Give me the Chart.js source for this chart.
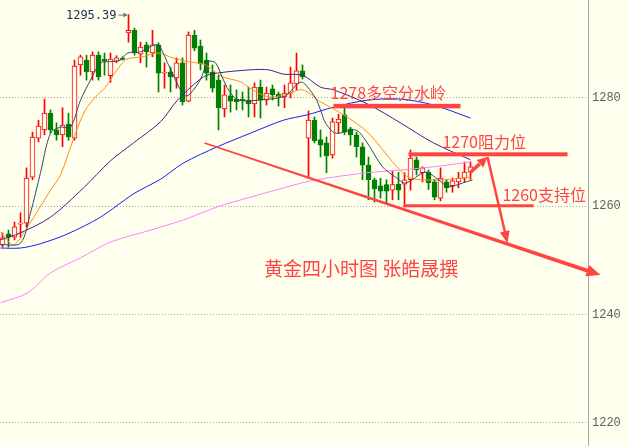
<!DOCTYPE html>
<html>
<head>
<meta charset="utf-8">
<script src="https://cdn.jsdelivr.net/npm/chart.js@4"></script>
<style>
html,body{margin:0;padding:0;background:#ffffee;}
#wrap{width:628px;height:446px;position:relative;}
</style>
</head>
<body>
<div id="wrap"><canvas id="myChart"></canvas></div>
<script>
// 黄金 4小时 K线 (index 0 = first candle)
var opens  = [1252.9,1254.9,1254.3,1256.7,1256.9,1265.4,1272.6,1274.1,1277.2,1274.1,
              1273.2,1275.2,1272.6,1286.1,1287.0,1284.8,1287.9,1287.2,1284.1,1286.8,
              1287.3,1292.0,1292.5,1288.1,1289.8,1288.3,1289.8,1284.6,1284.8,1283.7,
              1286.5,1279.4,1291.6,1289.6,1287.0,1284.8,1283.3,1278.0,1280.4,1279.8,
              1279.8,1279.6,1278.9,1282.0,1279.6,1281.7,1280.7,1280.2,1280.9,1282.6,
              1285.0,1272.6,1275.9,1272.3,1271.7,1269.5,1275.4,1276.9,1274.3,1273.2,
              1271.0,1267.6,1264.9,1263.8,1264.0,1263.0,1264.1,1264.1,1264.9,1268.6,
              1266.2,1266.3,1264.5,1261.5,1264.5,1263.8,1264.5,1265.2,1266.3];
var highs  = [1255.1,1255.6,1257.1,1258.8,1267.1,1273.7,1275.9,1279.8,1277.8,1275.4,
              1278.2,1277.2,1287.0,1287.9,1287.9,1288.5,1288.5,1288.3,1288.3,1287.8,
              1287.6,1295.39,1292.9,1290.3,1290.3,1292.5,1290.2,1286.5,1285.7,1287.4,
              1287.4,1292.2,1292.5,1290.7,1288.3,1286.1,1284.2,1282.4,1282.4,1281.5,
              1281.1,1282.0,1282.8,1283.3,1282.0,1282.4,1281.1,1282.4,1285.7,1288.3,
              1286.1,1277.6,1276.5,1274.1,1272.8,1276.3,1277.0,1278.2,1274.6,1273.7,
              1271.7,1269.1,1265.2,1265.2,1264.9,1266.5,1266.3,1266.2,1270.4,1269.1,
              1267.3,1266.7,1265.0,1267.1,1265.0,1265.2,1266.3,1268.2,1268.2];
var lows   = [1252.5,1252.5,1253.8,1254.3,1256.2,1264.9,1271.9,1273.2,1273.5,1272.2,
              1271.0,1272.2,1272.2,1284.2,1283.3,1283.3,1283.3,1284.2,1282.9,1286.5,
              1287.0,1290.3,1287.9,1286.5,1285.7,1287.6,1281.1,1281.8,1281.1,1281.8,
              1278.7,1279.3,1288.7,1285.2,1283.3,1281.1,1274.1,1276.5,1277.4,1277.8,
              1277.8,1276.5,1276.5,1276.3,1278.7,1279.6,1278.5,1278.2,1280.0,1281.5,
              1283.5,1265.2,1271.7,1269.1,1266.2,1268.9,1273.5,1273.2,1271.3,1269.1,
              1264.9,1261.2,1260.8,1261.5,1260.6,1261.2,1261.2,1259.9,1263.0,1265.8,
              1264.5,1263.1,1261.2,1261.0,1262.6,1262.6,1263.4,1264.5,1265.0];
var closes = [1254.2,1254.3,1256.2,1256.9,1265.2,1272.8,1274.8,1277.2,1274.1,1273.2,
              1275.0,1272.8,1285.9,1287.6,1284.8,1287.9,1283.9,1286.8,1287.2,1287.4,
              1287.1,1292.5,1288.3,1289.4,1288.5,1289.8,1284.6,1284.8,1283.9,1286.5,
              1279.3,1291.6,1289.2,1286.3,1284.6,1281.8,1278.2,1280.6,1279.4,1279.3,
              1279.5,1278.9,1282.0,1279.6,1280.9,1280.6,1280.2,1280.9,1282.8,1285.0,
              1283.9,1275.9,1272.1,1271.3,1269.3,1275.6,1276.1,1273.7,1273.2,1271.0,
              1267.6,1264.9,1263.2,1262.8,1262.8,1264.0,1263.0,1264.9,1268.9,1266.7,
              1267.1,1264.3,1261.7,1265.2,1263.4,1264.7,1265.2,1266.3,1267.3];

// moving average curves, [candle index, price]
var maSlate = [[-0.33,1252.9],[3,1253.2],[4.67,1258.8],[6.33,1266.2],[8,1273.5],[9.67,1274.6],
  [11.33,1274.6],[13,1279.6],[14.67,1283.3],[16.33,1286.5],[18,1286.7],[19.67,1287.0],[20.83,1288.3],
  [23,1288.5],[25.83,1289.8],[27.67,1286.1],[30.5,1280.4],[32.67,1282.8],[34.33,1286.7],[35.5,1286.5],
  [36.67,1283.7],[37.67,1281.5],[39.33,1279.6],[44.33,1279.8],[47.17,1280.4],[49.33,1282.8],
  [50.17,1282.8],[52.17,1280.0],[53,1277.8],[53.83,1275.4],[55.5,1273.5],[58.83,1274.1],[60.5,1272.2],
  [63.33,1267.3],[65.5,1265.4],[67.17,1264.3],[70.5,1266.3],[72.67,1264.9],[74.33,1263.6],
  [76.67,1264.3],[78.33,1264.9]];
var maOrange = [[-0.33,1255.3],[1.83,1252.9],[4.17,1256.2],[8,1263.0],[9.67,1265.8],[12.17,1273.5],
  [13.83,1277.8],[15.5,1280.2],[17.17,1282.0],[18.83,1284.8],[20.5,1287.0],[21.67,1287.4],
  [23.33,1287.6],[26,1288.3],[28.33,1287.4],[31,1286.7],[33.83,1286.1],[36.67,1283.9],[39.67,1283.0],
  [41.67,1281.5],[44.33,1280.2],[47.17,1280.6],[50,1281.5],[53,1279.3],[56.83,1276.9],[60.83,1273.7],
  [65.5,1267.6],[68,1265.2],[73.33,1264.9],[78,1265.4]];
var maPurple = [[-0.33,1253.8],[3,1255.1],[8,1258.0],[13.5,1263.4],[18,1268.4],[21.83,1271.7],
  [26.33,1275.6],[29.17,1279.6],[33.5,1283.9],[35.83,1284.6],[41.33,1285.2],[44.33,1285.2],
  [46.83,1284.4],[50,1284.2],[53,1282.0],[55.17,1281.5],[60.83,1278.9],[66.33,1275.4],
  [71.83,1271.7],[78,1268.6]];
var maBlue = [[-0.33,1252.3],[3,1252.3],[6.33,1253.1],[10.83,1254.9],[16.33,1258.0],[21.83,1262.3],
  [26.33,1265.0],[30.17,1268.0],[35.83,1271.0],[41.33,1273.5],[46.83,1275.9],[50.83,1276.9],
  [55.17,1278.3],[60.83,1279.6],[66.33,1279.8],[71.83,1278.7],[78,1276.3]];
var maPink = [[-0.33,1242.2],[4.17,1244.0],[8,1247.7],[13,1250.5],[18,1253.4],[24.67,1255.6],
  [30.17,1257.5],[35.83,1259.9],[41.33,1261.7],[46.83,1263.4],[51.33,1264.7],[55.17,1265.4],
  [60.83,1266.2],[66.33,1266.7],[71.83,1267.3],[78,1268.2]];

var yTicks = [1220, 1240, 1260, 1280];
var levelPrices = [1278.5, 1269.6, 1260.1];

var bg = '#ffffee';
var upColor = '#ff0000';
var downColor = '#008000';
var annoRed = '#ff4444';

var bodies = [], wicks = [], candleColors = [], bodyFill = [];
for (var i = 0; i < opens.length; i++) {
  var up = closes[i] >= opens[i];
  bodies.push({x: i, y: [opens[i], closes[i]]});
  wicks.push({x: i, y: [lows[i], highs[i]]});
  candleColors.push(up ? upColor : downColor);
  bodyFill.push(up ? bg : downColor);
}
function pts(arr) { return arr.map(function (p) { return {x: p[0], y: p[1]}; }); }
function maLine(arr, color, order) {
  return {type: 'line', data: pts(arr), borderColor: color, borderWidth: 1, pointRadius: 0,
          tension: 0.3, fill: false, order: order};
}

// drawing helpers for the hand annotations
function arrowHead(ctx, x1, y1, x2, y2, len, wid) {
  var a = Math.atan2(y2 - y1, x2 - x1);
  ctx.beginPath();
  ctx.moveTo(x2, y2);
  ctx.lineTo(x2 - len * Math.cos(a) + wid * Math.sin(a), y2 - len * Math.sin(a) - wid * Math.cos(a));
  ctx.lineTo(x2 - len * Math.cos(a) - wid * Math.sin(a), y2 - len * Math.sin(a) + wid * Math.cos(a));
  ctx.closePath();
  ctx.fill();
}

var notes = {
  levels: [
    {price: levelPrices[0], from: 55.17, to: 76.33, w: 4.5, text: '1278多空分水岭', tx: 54.67, ty: 1280.9},
    {price: levelPrices[1], from: 67.67, to: 94.17, w: 4, text: '1270阻力位', tx: 73.33, ty: 1271.9},
    {price: levelPrices[2], from: 66.83, to: 88.5, w: 3, text: '1260支持位', tx: 83.33, ty: 1262.1}
  ],
  trend: {a: [33.67, 1271.7], b: [99.67, 1247.3]},
  upArrow: {a: [78, 1266.3], b: [80.83, 1269.1]},
  downArrow: {a: [80.83, 1269.1], b: [84.17, 1253.2]},
  title: {text: '黄金四小时图 张皓晟撰', x: 43.6, y: 1248.4}
};

var annotate = {
  id: 'annotate',
  afterDraw: function (chart) {
    var ctx = chart.ctx, xs = chart.scales.x, ys = chart.scales.y;
    function P(i, p) { return [xs.getPixelForValue(i), ys.getPixelForValue(p)]; }
    ctx.save();

    // high label
    var hiIdx = highs.indexOf(Math.max.apply(null, highs));
    var hp = P(hiIdx, highs[hiIdx]);
    ctx.font = '12px "DejaVu Sans Mono"';
    ctx.fillStyle = '#1c2a50';
    ctx.textAlign = 'right';
    ctx.textBaseline = 'middle';
    ctx.fillText(highs[hiIdx].toFixed(2), hp[0] - 12, hp[1] + 1);
    ctx.strokeStyle = '#707070';
    ctx.fillStyle = '#707070';
    ctx.lineWidth = 1;
    ctx.beginPath();
    ctx.moveTo(hp[0] - 10, hp[1] + 0.5);
    ctx.lineTo(hp[0] - 2, hp[1] + 0.5);
    ctx.stroke();
    arrowHead(ctx, hp[0] - 10, hp[1] + 0.5, hp[0] - 1, hp[1] + 0.5, 4, 2.5);

    // level lines
    ctx.fillStyle = annoRed;
    notes.levels.forEach(function (l) {
      var a = P(l.from, l.price), b = P(l.to, l.price);
      ctx.fillRect(a[0], a[1] - l.w / 2, b[0] - a[0], l.w);
    });

    // trend line, tapered
    var t1 = P(notes.trend.a[0], notes.trend.a[1]), t2 = P(notes.trend.b[0], notes.trend.b[1]);
    var ang = Math.atan2(t2[1] - t1[1], t2[0] - t1[0]);
    var nx = -Math.sin(ang), ny = Math.cos(ang);
    var endX = t2[0] - 10 * Math.cos(ang), endY = t2[1] - 10 * Math.sin(ang);
    ctx.beginPath();
    ctx.moveTo(t1[0] + nx * 0.8, t1[1] + ny * 0.8);
    ctx.lineTo(endX + nx * 2, endY + ny * 2);
    ctx.lineTo(endX - nx * 2, endY - ny * 2);
    ctx.lineTo(t1[0] - nx * 0.8, t1[1] - ny * 0.8);
    ctx.closePath();
    ctx.fill();
    arrowHead(ctx, t1[0], t1[1], t2[0], t2[1], 14, 6);

    // small arrows
    ctx.strokeStyle = annoRed;
    var u1 = P(notes.upArrow.a[0], notes.upArrow.a[1]), u2 = P(notes.upArrow.b[0], notes.upArrow.b[1]);
    ctx.lineWidth = 3.5;
    ctx.beginPath();
    ctx.moveTo(u1[0], u1[1]);
    ctx.lineTo(u1[0] + (u2[0] - u1[0]) * 0.55, u1[1] + (u2[1] - u1[1]) * 0.55);
    ctx.stroke();
    arrowHead(ctx, u1[0], u1[1], u2[0], u2[1], 10, 5);

    var d1 = P(notes.downArrow.a[0], notes.downArrow.a[1]), d2 = P(notes.downArrow.b[0], notes.downArrow.b[1]);
    ctx.lineWidth = 2.5;
    ctx.beginPath();
    ctx.moveTo(d1[0], d1[1]);
    ctx.lineTo(d2[0] - (d2[0] - d1[0]) * 0.1, d2[1] - (d2[1] - d1[1]) * 0.1);
    ctx.stroke();
    arrowHead(ctx, d1[0], d1[1], d2[0], d2[1], 12, 5);

    // texts
    ctx.font = '16px "Noto Sans CJK SC"';
    ctx.textAlign = 'left';
    ctx.textBaseline = 'middle';
    ctx.fillStyle = annoRed;
    notes.levels.forEach(function (l) {
      var p = P(l.tx, l.ty);
      ctx.fillText(l.text, p[0], p[1]);
    });
    ctx.font = '19px "Noto Sans CJK SC"';
    var tp = P(notes.title.x, notes.title.y);
    ctx.fillText(notes.title.text, tp[0], tp[1]);
    ctx.restore();
  }
};

var ctx = document.getElementById('myChart').getContext('2d');
var chart = new Chart(ctx, {
  type: 'bar',
  data: {
    datasets: [
      {data: wicks, backgroundColor: candleColors, borderWidth: 0, barThickness: 1, grouped: false, order: 20},
      {data: bodies, backgroundColor: bodyFill, borderColor: candleColors, borderWidth: 1,
       borderSkipped: false, barThickness: 5, minBarLength: 1, grouped: false, order: 19},
      maLine(maPink, '#ff80ff', 5),
      maLine(maBlue, '#1a1aff', 4),
      maLine(maPurple, '#4b1a8b', 3),
      maLine(maOrange, '#ff8c1a', 2),
      maLine(maSlate, '#2f4a66', 1)
    ]
  },
  options: {
    responsive: true,
    maintainAspectRatio: false,
    animation: false,
    layout: {padding: 0},
    plugins: {legend: {display: false}, tooltip: {enabled: false}},
    scales: {
      x: {type: 'linear', display: false, offset: false, min: -2.5 / 6, max: -2.5 / 6 + 98},
      y: {
        position: 'right',
        min: 1215.75, max: 1298.09,
        afterFit: function (s) { s.width = 40; s.paddingTop = 0; s.paddingBottom = 0; },
        afterBuildTicks: function (s) { s.ticks = yTicks.map(function (v) { return {value: v}; }); },
        ticks: {color: '#606060', font: {family: 'Liberation Mono', size: 12}, padding: 4,
                callback: function (v) { return String(v); }},
        grid: {color: '#a8a8a8', drawTicks: false, lineWidth: 1},
        border: {color: '#a8a8a8', dash: [1, 2]}
      }
    }
  },
  plugins: [annotate]
});
</script>
</body>
</html>
